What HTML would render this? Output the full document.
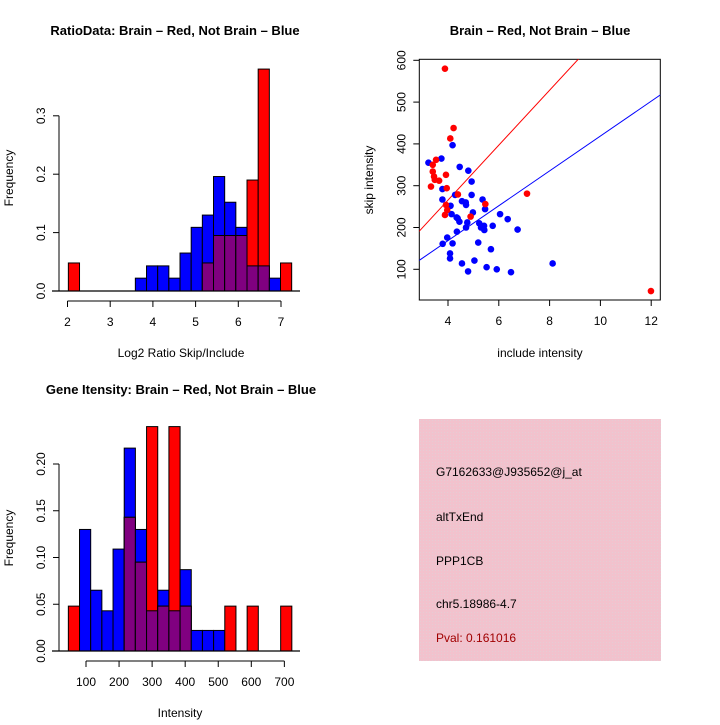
<!DOCTYPE html>
<html><head><meta charset="utf-8"><style>
body{margin:0;background:#fff}
svg text{font-family:"Liberation Sans",sans-serif}
</style></head><body>
<svg id="c" width="720" height="720" viewBox="0 0 720 720" xmlns="http://www.w3.org/2000/svg">
<defs><pattern id="hatch" width="3" height="3" patternUnits="userSpaceOnUse"><rect width="3" height="3" fill="#f2c2cd"/><rect width="1" height="1" fill="#e6ccd4"/></pattern></defs>
<g id="p1"></g>
<g id="p2"></g>
<g id="p3"></g>
<g>
<rect x="419" y="419" width="242" height="242" fill="url(#hatch)"/>
<text x="436" y="476" font-size="12">G7162633@J935652@j_at</text>
<text x="436" y="521" font-size="12">altTxEnd</text>
<text x="436" y="565" font-size="12">PPP1CB</text>
<text x="436" y="608" font-size="12">chr5.18986-4.7</text>
<text x="436" y="642" font-size="12" fill="#a00000">Pval: 0.161016</text>
</g>
</svg>
<script>
// ---- Plot 1 data ----
const ratioStart = 2.02, ratioWidth = 0.2615;
const ratioBlue = [0,0,0,0,0,0,0.022,0.043,0.043,0.022,0.065,0.109,0.130,0.196,0.152,0.109,0.043,0.043,0.022,0];
const ratioRed  = [0.048,0,0,0,0,0,0,0,0,0,0,0,0.048,0.095,0.095,0.095,0.19,0.38,0,0.048];
const ratioXTicks = [2,3,4,5,6,7];
const ratioYTicks = [0,0.1,0.2,0.3];
const ratioYLabels = ["0.0","0.1","0.2","0.3"];
// ---- Plot 3 data ----
const intStart = 46.6, intWidth = 33.8;
const intBlue = [0,0.130,0.065,0.043,0.109,0.217,0.130,0.043,0.065,0.043,0.087,0.022,0.022,0.022,0,0,0,0,0,0];
const intRed  = [0.048,0,0,0,0,0.143,0.095,0.24,0.048,0.24,0.048,0,0,0,0.048,0,0.048,0,0,0.048];
const intXTicks = [100,200,300,400,500,600,700];
const intYTicks = [0,0.05,0.10,0.15,0.20];
const intYLabels = ["0.00","0.05","0.10","0.15","0.20"];
// ---- Plot 2 data ----
const blueX = [3.23,3.74,3.78,3.78,3.79,3.97,4.08,4.08,4.10,4.14,4.18,4.18,4.28,4.34,4.35,4.38,4.45,4.46,4.55,4.70,4.71,4.71,4.80,4.76,4.93,4.93,4.98,4.55,4.79,5.04,5.19,5.23,5.30,5.36,5.42,5.46,5.43,5.52,5.76,5.69,5.92,6.05,6.35,6.48,6.74,8.12];
const blueY = [355,365,292,267,161,176,138,126,252,232,162,397,278,224,190,222,214,345,263,260,254,200,336,212,310,278,236,114,95,121,164,210,200,267,204,244,194,105,204,148,100,232,220,93,195,114];
const redX = [3.88,4.22,4.09,3.53,3.40,3.40,3.45,3.48,3.65,3.33,3.92,3.95,3.88,3.97,3.92,4.39,4.89,5.47,7.11,11.99];
const redY = [580,438,413,362,350,334,322,314,312,298,326,294,230,242,254,279,226,256,281,48];
const redFit = [2.8,65.7];   // intercept, slope
const blueFit = [1.8,41.7];
const scX = [4,6,8,10,12];
const scY = [100,200,300,400,500,600];

const NS="http://www.w3.org/2000/svg";
function mk(parent,tag,attrs,txt){const e=document.createElementNS(NS,tag);for(const k in attrs)e.setAttribute(k,attrs[k]);if(txt!==undefined)e.textContent=txt;parent.appendChild(e);return e;}

function hist(g,opt){
  const X=v=>opt.x0+(v-opt.v0)*opt.kx, Y=v=>opt.y0-v*opt.ky;
  const n=opt.blue.length;
  for(let i=0;i<n;i++){
    const a=X(opt.start+i*opt.w), b=X(opt.start+(i+1)*opt.w);
    const bv=opt.blue[i], rv=opt.red[i];
    if(bv>0){const r=mk(g,'rect',{x:a,y:Y(bv),width:b-a,height:Y(0)-Y(bv),fill:'#0000ff',stroke:'#000','stroke-width':1});
      
      }
    if(rv>0){const r=mk(g,'rect',{x:a,y:Y(rv),width:b-a,height:Y(0)-Y(rv),fill:'#ff0000',stroke:'#000','stroke-width':1});
      
      }
    if(bv>0&&rv>0){const m=Math.min(bv,rv);const r=mk(g,'rect',{x:a,y:Y(m),width:b-a,height:Y(0)-Y(m),fill:'#800080',stroke:'#000','stroke-width':1});
      
      }
  }
  const bl=mk(g,'line',{x1:opt.blX1,x2:opt.blX2,y1:Y(0),y2:Y(0),stroke:'#000','stroke-width':1.3});
  
  
  const xa=mk(g,'g',{});
  
  
  const xt=opt.xticks;
  mk(xa,'line',{x1:X(xt[0]),x2:X(xt[xt.length-1]),y1:opt.xAxisY,y2:opt.xAxisY,stroke:'#000'});
  xt.forEach(t=>{mk(xa,'line',{x1:X(t),x2:X(t),y1:opt.xAxisY,y2:opt.xAxisY+6,stroke:'#000'});
    const tx=mk(xa,'text',{x:X(t),y:opt.xAxisY+25,'font-size':12,'text-anchor':'middle'},String(t));
    
    });
  const ya=mk(g,'g',{});
  
  
  const yt=opt.yticks;
  mk(ya,'line',{x1:opt.yAxisX,x2:opt.yAxisX,y1:Y(yt[0]),y2:Y(yt[yt.length-1]),stroke:'#000'});
  yt.forEach((t,i)=>{mk(ya,'line',{x1:opt.yAxisX,x2:opt.yAxisX-6,y1:Y(t),y2:Y(t),stroke:'#000'});
    const tx=mk(ya,'text',{x:opt.yAxisX-14,y:Y(t),'font-size':12,'text-anchor':'middle',transform:`rotate(-90 ${opt.yAxisX-14} ${Y(t)})`},opt.ylabels[i]);
    
    });
  const t1=mk(g,'text',{x:opt.titleX,y:opt.titleY,'font-size':13,'font-weight':'bold','text-anchor':'middle'},opt.title);
  
  
  const t2=mk(g,'text',{x:opt.xlabX,y:opt.xlabY,'font-size':12,'text-anchor':'middle'},opt.xlab);
  
  
  const t3=mk(g,'text',{x:13,y:opt.ylabY,'font-size':12,'text-anchor':'middle',transform:`rotate(-90 13 ${opt.ylabY})`},'Frequency');
  
  
}

hist(document.getElementById('p1'),{x0:67.5,v0:2,kx:42.7,y0:291,ky:584,start:ratioStart,w:ratioWidth,blue:ratioBlue,red:ratioRed,
  blX1:52,blX2:300,xticks:ratioXTicks,yticks:ratioYTicks,ylabels:ratioYLabels,xAxisY:301,yAxisX:59,
  title:'RatioData: Brain \u2013 Red, Not Brain \u2013 Blue',titleX:175,titleY:35,xlab:'Log2 Ratio Skip/Include',xlabX:181,xlabY:357,ylabY:178});
hist(document.getElementById('p3'),{x0:86,v0:100,kx:0.3306,y0:651,ky:935,start:intStart,w:intWidth,blue:intBlue,red:intRed,
  blX1:52,blX2:300,xticks:intXTicks,yticks:intYTicks,ylabels:intYLabels,xAxisY:661,yAxisX:59,
  title:'Gene Itensity: Brain \u2013 Red, Not Brain \u2013 Blue',titleX:181,titleY:394,xlab:'Intensity',xlabX:180,xlabY:717,ylabY:538});

(function(){
  const g=document.getElementById('p2');
  const X=v=>448+(v-4)*25.4, Y=v=>269.3-(v-100)*0.418;
  const L=419.3,R=660.3,T=59.3,B=300;
  const box=mk(g,'rect',{x:L,y:T,width:R-L,height:B-T,fill:'none',stroke:'#000'});
  
  
  const cp=mk(g,'clipPath',{id:'scclip'});mk(cp,'rect',{x:L,y:T,width:R-L,height:B-T});
  const xmin=2.85,xmax=12.36;
  [[redFit,'#ff0000','red-fit-line'],[blueFit,'#0000ff','blue-fit-line']].forEach(([f,c,n])=>{
    const l=mk(g,'line',{x1:X(xmin),y1:Y(f[0]+f[1]*xmin),x2:X(xmax),y2:Y(f[0]+f[1]*xmax),stroke:c,'stroke-width':1,'clip-path':'url(#scclip)'});
    
    
  });
  blueX.forEach((v,i)=>{const c=mk(g,'circle',{cx:X(v),cy:Y(blueY[i]),r:3.3,fill:'#0000ff'});
    
    });
  redX.forEach((v,i)=>{const c=mk(g,'circle',{cx:X(v),cy:Y(redY[i]),r:3.3,fill:'#ff0000'});
    
    });
  scX.forEach(t=>{mk(g,'line',{x1:X(t),x2:X(t),y1:B,y2:B+6,stroke:'#000'});
    const tx=mk(g,'text',{x:X(t),y:B+25,'font-size':12,'text-anchor':'middle'},String(t));
    
    });
  scY.forEach(t=>{mk(g,'line',{x1:L,x2:L-6,y1:Y(t),y2:Y(t),stroke:'#000'});
    const tx=mk(g,'text',{x:L-14,y:Y(t),'font-size':12,'text-anchor':'middle',transform:`rotate(-90 ${L-14} ${Y(t)})`},String(t));
    
    });
  const t1=mk(g,'text',{x:540,y:35,'font-size':13,'font-weight':'bold','text-anchor':'middle'},'Brain \u2013 Red, Not Brain \u2013 Blue');
  
  
  const t2=mk(g,'text',{x:540,y:357,'font-size':12,'text-anchor':'middle'},'include intensity');
  
  
  const t3=mk(g,'text',{x:373,y:180,'font-size':12,'text-anchor':'middle',transform:'rotate(-90 373 180)'},'skip intensity');
  
  
})();
</script>
</body></html>
